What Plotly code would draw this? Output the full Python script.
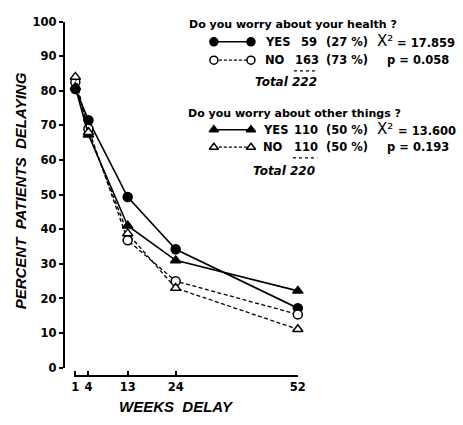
import plotly.graph_objects as go

# ---------------- data ----------------
weeks = [1, 4, 13, 24, 52]
health_yes = [80.5, 71.5, 49.3, 34.2, 17.2]
health_no = [82.5, 69.0, 36.8, 25.0, 15.4]
other_yes = [81.0, 67.3, 41.0, 31.0, 22.2]
other_no = [84.0, 68.0, 38.8, 23.0, 11.1]
y_ticks = [0, 10, 20, 30, 40, 50, 60, 70, 80, 90, 100]
x_ticks = weeks
series_names = ["Health worry: YES", "Health worry: NO",
                "Other worry: YES", "Other worry: NO"]

# ---------------- layout helpers ----------------
W, H = 463, 425


def px(x):
    return x / W


def py(y):
    return 1 - y / H


BLACK = "black"
FONT = "DejaVu Sans"
TITLE_FONT = "Liberation Sans"

styles = [
    dict(dash="solid", width=1.6, symbol="circle", fill=BLACK),
    dict(dash="4px,2.5px", width=1.3, symbol="circle", fill="white"),
    dict(dash="solid", width=1.6, symbol="triangle-up", fill=BLACK),
    dict(dash="4px,2.5px", width=1.3, symbol="triangle-up", fill="white"),
]
series = [health_yes, health_no, other_yes, other_no]

fig = go.Figure()

for name, vals, st in zip(series_names, series, styles):
    fig.add_trace(go.Scatter(
        x=weeks, y=vals, name=name, mode="lines+markers",
        line=dict(color=BLACK, width=st["width"], dash=st["dash"]),
        marker=dict(symbol=st["symbol"], size=9, color=st["fill"],
                    line=dict(color=BLACK, width=1.5)),
        cliponaxis=False, showlegend=False,
    ))

# legend keys (drawn on an invisible pixel-space overlay axis)
KEY_X = [216, 254]
KEY_ROWS = [36, 55, 127, 145]
for row, st in zip(KEY_ROWS, styles):
    fig.add_trace(go.Scatter(
        x=KEY_X, y=[row, row], mode="lines+markers", xaxis="x2", yaxis="y2",
        line=dict(color=BLACK, width=st["width"],
                  dash="solid" if st["dash"] == "solid" else "3px,2px"),
        marker=dict(symbol=st["symbol"], size=8, color=st["fill"],
                    line=dict(color=BLACK, width=1.5)),
        cliponaxis=False, showlegend=False, hoverinfo="skip",
    ))

annotations = []


def txt(s, x, y, size=11.5, italic=False, family=FONT, bold=True, xanchor="left", angle=0):
    t = s
    if bold:
        t = "<b>" + t + "</b>"
    if italic:
        t = "<i>" + t + "</i>"
    annotations.append(dict(
        text=t, x=px(x), y=py(y), xref="paper", yref="paper",
        xanchor=xanchor, yanchor="middle", showarrow=False, textangle=angle,
        font=dict(family=family, size=size, color=BLACK),
    ))


txt("Do you worry about your health ?", 188, 18, size=11)
txt("YES", 266, 36)
txt("59", 303, 36)
txt("(27 %)", 329, 36)
txt("X²", 381, 35, size=15, bold=False)
txt("= 17.859", 402, 37)
txt("NO", 266, 55)
txt("163", 297, 55)
txt("(73 %)", 329, 55)
txt("p = 0.058", 391, 55)
txt("Total 222", 256, 78, size=12, italic=True)

txt("Do you worry about other things ?", 187, 110, size=11)
txt("YES", 264, 127)
txt("110", 296, 127)
txt("(50 %)", 329, 127)
txt("X²", 381, 126, size=15, bold=False)
txt("= 13.600", 403, 128)
txt("NO", 264, 145)
txt("110", 296, 145)
txt("(50 %)", 329, 145)
txt("p = 0.193", 391, 145)
txt("Total 220", 254, 170, size=12, italic=True)

# axis titles
txt("WEEKS  DELAY", 178, 413, size=15, italic=True, family=TITLE_FONT, xanchor="center")
txt("PERCENT  PATIENTS  DELAYING", 18, 190, size=15, italic=True,
    family=TITLE_FONT, xanchor="center", angle=-90)

shapes = [
    dict(type="line", xref="paper", yref="paper", x0=px(298), x1=px(322),
         y0=py(66), y1=py(66), line=dict(color=BLACK, width=1.3, dash="dot")),
    dict(type="line", xref="paper", yref="paper", x0=px(297), x1=px(322),
         y0=py(156), y1=py(156), line=dict(color=BLACK, width=1.3, dash="dot")),
]

fig.update_layout(
    width=W, height=H, autosize=False,
    margin=dict(l=0, r=0, t=0, b=0),
    paper_bgcolor="white", plot_bgcolor="rgba(0,0,0,0)",
    showlegend=False,
    annotations=annotations, shapes=shapes,
    xaxis=dict(
        domain=[px(73), px(302)], range=[0.75, 52], anchor="free",
        position=py(382), tickvals=x_ticks, ticktext=[str(v) for v in x_ticks],
        ticks="inside", ticklen=5, tickwidth=1.5, tickcolor=BLACK,
        showline=True, linewidth=1.5, linecolor=BLACK,
        showgrid=False, zeroline=False,
        tickfont=dict(family=FONT, size=11.5, color=BLACK, weight="bold"),
    ),
    yaxis=dict(
        domain=[py(373), py(15)], range=[0, 100], anchor="free",
        position=px(62), tickvals=y_ticks,
        ticks="outside", ticklen=4, tickwidth=1.5, tickcolor=BLACK,
        showline=True, linewidth=1.5, linecolor=BLACK,
        showgrid=False, zeroline=False,
        tickfont=dict(family=FONT, size=11.5, color=BLACK, weight="bold"),
    ),
    xaxis2=dict(domain=[0, 1], range=[0, W], anchor="y2", visible=False),
    yaxis2=dict(domain=[0, 1], range=[H, 0], anchor="x2", visible=False),
)

fig.write_html("out.html")
